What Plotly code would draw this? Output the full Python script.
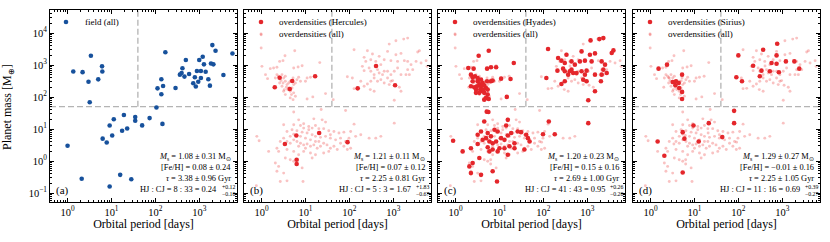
import plotly.graph_objects as go

# ---------------- data ----------------
# field planets (panel a): orbital period [days], planet mass [M_earth]
field_P = [1.35, 2.2, 3.0, 3.4, 3.2, 5.0, 6.1, 6.2,
           1.0, 2.1, 6.3, 7.8, 9.1, 10.4, 11.3, 9.1, 15.8, 17.5, 19.2, 22.8, 28.3, 34.8, 34.8, 50, 74, 106, 145,
           112, 137, 137, 150, 169, 288, 362, 396, 414, 495, 587, 794, 834, 886, 1000, 1090, 1090, 1200,
           1280, 1610, 1750, 1850, 1990, 2100, 2350, 3550, 5700, 950, 730, 1400, 460]
field_M = [630, 600, 300, 1950, 69, 357, 910, 630,
           3.0, 0.28, 5.0, 3.8, 12.9, 6.3, 20.3, 0.16, 0.37, 8.8, 27.6, 10.4, 0.27, 23.6, 18.1, 13, 22, 47, 14.5,
           187, 358, 122, 222, 2500, 191, 500, 565, 790, 1440, 525, 415, 213, 650, 1430, 395, 650, 1820,
           1050, 358, 227, 1120, 4200, 1050, 2800, 490, 2300, 300, 270, 620, 435]

# all overdensity planets (light points, panels b-d)
all_P = [
    # short period, massive
    0.98, 0.98, 3.42, 5.7, 1.02, 1.23, 1.37, 1.58, 1.88, 2.24, 2.58, 3.08, 5.4, 6.8, 8.4, 21.2,
    2.24, 2.45, 2.67, 2.92, 3.19, 3.48, 2.77, 3.08, 3.48, 3.80, 4.15, 4.5, 3.67, 3.30, 3.94, 4.5,
    4.95, 5.4, 5.9, 5.22, 6.4, 7.0, 7.7, 5.4, 4.8, 5.9, 5.22, 4.5, 10.9, 13, 10.0, 10.9, 14.7,
    28.7, 43, 2.92, 4.15, 3.19, 2.58, 2.06, 3.48,
    2.0, 2.58, 4.4, 5.0, 16.6,
    # long period, massive
    128, 810, 1150, 1730, 2130, 3610, 3950, 5600, 5900, 258, 336, 217, 237, 308, 400, 478, 522,
    622, 742, 885, 1150, 1258, 1500, 1790, 2130, 2540, 2780, 2130, 2330, 1950, 1500, 1258, 1055,
    885, 742, 622, 570, 478, 438, 367, 308, 282, 217, 198, 117, 90, 128, 182, 258, 308, 367, 438,
    522, 622, 742, 885, 966, 810, 1373, 1500, 1055, 367, 300, 217, 3310, 4300,
    155, 405, 1100,
    # low mass
    5.4, 22.8, 82, 7.0, 15.5, 24, 28.7, 128, 1055, 7.7, 9.1, 11.9, 14.2, 16.9, 20.2, 26, 34, 44.5,
    58, 75, 107, 3.8, 4.95, 6.4, 8.4, 10.9, 14.2, 16.9, 22, 28.7, 37, 48.6, 63, 82, 98, 139, 182,
    282, 400, 522, 0.78, 0.88, 2.67, 3.19, 3.8, 4.5, 5.4, 6.4, 7.7, 9.1, 10.9, 13, 15.5, 18.5, 22,
    26, 31, 37, 44.5, 53, 75, 90, 107, 1.45, 2.24, 2.45, 3.8, 5.4, 7.0, 9.1, 13, 16.9, 26, 34,
    2.06, 2.45, 2.24, 3.19, 2.67, 3.8, 8.8, 8.4, 4.5, 3.48, 5.4, 14.2, 0.76,
    4.5, 5.4, 7.7, 10, 13, 16.9, 7.0, 10, 20.2, 11.9, 9.1, 37, 63, 3.19, 5.4,
    3.4, 6.2, 20.5, 91, 6.3, 6.3,
]
all_M = [
    8830, 3390, 1960, 2800, 910, 501, 376, 770, 810, 850, 1300, 1370, 810, 870, 955, 1190,
    501, 445, 395, 501, 395, 445, 326, 275, 311, 245, 275, 311, 202, 171, 171, 152,
    192, 245, 275, 395, 350, 414, 311, 135, 119, 106, 83, 94, 395, 414, 311, 87, 101,
    128, 83, 217, 192, 152, 275, 395, 119,
    202, 400, 178, 316, 446,
    3010, 4520, 5730, 6470, 6950, 2550, 2800, 1370, 910, 2800, 2210, 1740, 1300, 1470, 1300, 1870, 1030,
    1470, 2670, 1370, 2100, 1300, 2310, 1370, 1300, 1030, 718, 718, 501, 501, 501, 810, 637,
    501, 637, 637, 501, 565, 718, 501, 637, 810, 668, 910, 395, 430, 183, 311, 256, 311, 395, 311,
    350, 275, 395, 311, 326, 245, 202, 152, 79, 152, 171, 217, 1300, 1160,
    187, 930, 233,
    34, 41, 38, 19.4, 20.8, 19.4, 16.5, 14.2, 15.3, 12.9, 14.6, 12.0, 10.7, 12.9, 10.3, 10.3, 8.8, 8.4,
    7.5, 8.0, 8.4, 8.4, 9.5, 8.8, 8.0, 7.5, 6.6, 5.9, 5.5, 5.9, 5.2, 4.6, 5.2, 4.1, 5.2, 5.9, 6.6,
    5.2, 5.2, 5.9, 5.9, 4.3, 4.1, 5.2, 4.1, 3.6, 4.6, 4.1, 3.6, 3.2, 3.4, 2.9, 3.2, 2.5, 2.9,
    3.6, 3.2, 2.5, 2.9, 2.3, 2.9, 2.3, 2.5, 2.0, 2.5, 2.0, 2.3, 2.0, 1.57, 2.0, 1.78, 1.57, 1.78, 2.0,
    0.87, 0.68, 0.48, 0.42, 0.23, 0.24, 0.23, 0.61, 1.10, 1.24, 0.98, 1.24, 0.17,
    5.9, 6.9, 5.9, 5.2, 4.6, 4.1, 2.9, 2.5, 4.1, 9.5, 10.7, 6.6, 3.6, 13.6, 13.6,
    3.4, 6.3, 7.5, 3.9, 1.1, 0.81,
]

# Hercules overdensity planets (panel b)
herc_P = [2.0, 2.58, 4.4, 5.0, 16.6, 155, 405, 1100, 3.4, 6.2, 20.5, 91, 6.3, 6.3]
herc_M = [202, 400, 178, 316, 446, 187, 930, 233, 3.4, 6.3, 7.5, 3.9, 1.1, 0.81]

# Hyades overdensity planets (panel c)
hyad_P = [3.36, 5.7, 21.2, 1.95, 2.58, 5.22, 6.4, 8.4, 2.24, 2.45, 2.77, 3.19, 3.48, 3.8, 3.08, 2.67,
          4.15, 4.5, 4.95, 5.4, 3.67, 4.15, 3.48, 2.92, 4.5, 2.24, 5.4, 4.95, 4.5, 5.7, 2.92, 6.4, 7.0,
          10.9, 17.9, 14.7, 5.22, 3.19, 2.45, 3.8, 4.38,
          128, 1190, 1890, 2330, 3950, 3610, 742, 1150, 1500, 885, 336, 217, 258, 209, 282, 308, 367,
          438, 478, 570, 742, 885, 810, 966, 308, 258, 522, 1258, 2130, 2330, 2540, 2780, 2130, 2050,
          1500, 1055, 117, 308, 1500, 680, 966, 438, 400,
          5.13, 5.6, 133, 1055, 4.5, 15.5, 14.2, 7.7, 9.1, 3.8, 3.19, 5.4, 6.4, 4.95, 4.15, 5.9, 7.0,
          8.4, 10.9, 13, 15.5, 18.5, 26, 31, 40.7, 44.5, 48.6, 22, 16.9, 13, 10, 7.0, 5.4, 3.19, 2.24,
          1.45, 0.88, 22, 37, 98, 182, 15.5, 5.9, 9.1, 2.06, 2.45, 2.24, 3.8, 7.0, 8.8, 3.48]
hyad_M = [1960, 2800, 1160, 810, 770, 770, 850, 850, 501, 414, 445, 311, 256, 217, 217, 202,
          275, 233, 192, 171, 171, 152, 135, 171, 135, 217, 119, 94, 83, 87, 135, 311, 326,
          376, 367, 101, 311, 395, 311, 350, 171,
          3160, 5880, 6470, 6950, 2870, 2370, 2670, 2100, 2310, 1370, 2100, 1660, 1370, 668, 770, 637, 501,
          718, 565, 565, 637, 501, 350, 311, 311, 256, 1030, 1300, 1300, 718, 1030, 565, 501, 311,
          152, 79, 395, 1160, 501, 1300, 668, 1300, 637,
          35, 34, 17.2, 15.3, 17.2, 19.4, 12.9, 9.5, 8.4, 8.4, 6.6, 7.5, 5.9, 5.2, 4.6, 4.1, 3.6,
          4.1, 5.2, 4.6, 6.3, 7.5, 8.4, 8.0, 6.6, 5.2, 4.1, 3.6, 2.9, 2.5, 2.5, 2.3, 2.7, 3.4, 2.5,
          2.0, 4.3, 2.5, 2.3, 6.9, 6.9, 1.57, 2.0, 2.0, 0.68, 0.87, 0.42, 0.37, 0.48, 0.23, 1.24]

# Sirius overdensity planets (panel d)
sir_P = [2.37, 1.52, 5.22, 3.19, 3.8, 4.38, 4.5, 5.22, 5.22, 3.48, 3.67,
         100, 367, 766, 742, 1890, 217, 336, 522, 742, 838, 308, 90, 121, 570, 1210, 2440,
         80, 80, 21.2, 9.5, 5.4, 5.9, 12.5, 43, 1.45, 2.06, 5.4]
sir_M = [1030, 770, 501, 296, 311, 275, 192, 145, 87, 289, 233,
         2000, 3010, 4630, 2000, 1300, 955, 668, 637, 1100, 593, 445, 414, 311, 1160, 1300, 770,
         37, 15.3, 15.3, 12.9, 8.0, 5.0, 4.1, 5.6, 4.1, 1.47, 0.44]

panel_tags = ["(a)", "(b)", "(c)", "(d)"]
legend_first = ["field (all)", "overdensities (Hercules)", "overdensities (Hyades)", "overdensities (Sirius)"]
legend_second = [None, "overdensities (all)", "overdensities (all)", "overdensities (all)"]
ms_txt = ["1.08 ± 0.31", "1.21 ± 0.11", "1.20 ± 0.23", "1.29 ± 0.27"]
feh_txt = ["0.08 ± 0.24", "0.07 ± 0.12", "0.15 ± 0.16", "−0.01 ± 0.16"]
age_txt = ["3.38 ± 0.96", "2.25 ± 0.81", "2.69 ± 1.00", "2.25 ± 1.05"]
hjcj_txt = ["8 : 33 = 0.24", "5 : 3 = 1.67", "41 : 43 = 0.95", "11 : 16 = 0.69"]
ratio_up = ["+0.12", "+1.83", "+0.26", "+0.39"]
ratio_lo = ["−0.10", "−0.67", "−0.20", "−0.27"]

x_tickvals = [1, 10, 100, 1000]
x_ticktext = ["10<sup>0</sup>", "10<sup>1</sup>", "10<sup>2</sup>", "10<sup>3</sup>"]
y_tickvals = [0.1, 1, 10, 100, 1000, 10000]
y_ticktext = ["10<sup>−1</sup>", "10<sup>0</sup>", "10<sup>1</sup>", "10<sup>2</sup>",
              "10<sup>3</sup>", "10<sup>4</sup>"]
P_cut = 40     # days
M_cut = 50     # Earth masses

# ---------------- style / geometry ----------------
W, H = 830, 242
FONT = "Liberation Serif"
BLUE = "#17519c"
RED = "#e4262b"
LIGHT = "rgba(238,70,70,0.33)"
X_RANGE = [-0.4, 3.86]
Y_RANGE = [-1.28, 4.72]
left_px = [50, 244, 438, 633]
right_px = [237, 431, 625, 820]
top_px, bot_px = 10, 202
LEG_Y = [22, 34]

def px(x):
    return x / W

def py(y):
    return 1 - y / H

minor_x = [m * 10 ** e for e in range(-1, 4) for m in range(2, 10)]
minor_y = [m * 10 ** e for e in range(-2, 5) for m in range(2, 10)]

fig = go.Figure()

# panel a (legend symbol from the native legend, label as annotation next to it)
fig.add_trace(go.Scatter(x=field_P, y=field_M, mode="markers", name=" ",
                         hovertext=legend_first[0],
                         marker=dict(color=BLUE, size=4.6, line=dict(width=0)),
                         xaxis="x", yaxis="y", legend="legend", showlegend=True))

groups = [("Hercules", herc_P, herc_M), ("Hyades", hyad_P, hyad_M), ("Sirius", sir_P, sir_M)]
for i, (gname, gP, gM) in enumerate(groups):
    k = i + 2
    fig.add_trace(go.Scatter(x=all_P, y=all_M, mode="markers", name=" ",
                             hovertext=legend_second[k - 1],
                             marker=dict(color=LIGHT, size=2.9, line=dict(width=0)),
                             xaxis=f"x{k}", yaxis=f"y{k}", legend=f"legend{k + 3}", showlegend=True))
    fig.add_trace(go.Scatter(x=gP, y=gM, mode="markers", name=" ",
                             hovertext=legend_first[k - 1],
                             marker=dict(color=RED, size=4.6, line=dict(width=0)),
                             xaxis=f"x{k}", yaxis=f"y{k}", legend=f"legend{k}", showlegend=True))

layout = dict(width=W, height=H, margin=dict(l=0, r=0, t=0, b=0, autoexpand=False),
              paper_bgcolor="white", plot_bgcolor="white", showlegend=True,
              font=dict(family=FONT, color="black"), shapes=[], annotations=[])

def make_legend(x_px, y_px):
    return dict(x=px(x_px), y=py(y_px), xanchor="left", yanchor="middle",
                bgcolor="rgba(0,0,0,0)", borderwidth=0, itemwidth=30,
                font=dict(family=FONT, size=9, color="black"), tracegroupgap=0)

DASH = "6px,3px"
for i in range(4):
    k = "" if i == 0 else str(i + 1)
    xa = dict(type="log", range=X_RANGE, domain=[px(left_px[i]), px(right_px[i])],
              anchor=f"y{k}", automargin=False,
              showline=True, linecolor="black", linewidth=0.8, mirror="ticks",
              ticks="inside", ticklen=4, tickwidth=0.8, tickcolor="black",
              tickmode="array", tickvals=x_tickvals, ticktext=x_ticktext,
              tickfont=dict(family=FONT, size=10.5, color="black"),
              showgrid=False, zeroline=False,
              minor=dict(ticks="inside", ticklen=2, tickwidth=0.6, tickcolor="black",
                         tickmode="array", tickvals=minor_x, showgrid=False),
              title=dict(text="Orbital period [days]", font=dict(family=FONT, size=12), standoff=2))
    ya = dict(type="log", range=Y_RANGE, domain=[py(bot_px), py(top_px)],
              anchor=f"x{k}", automargin=False,
              showline=True, linecolor="black", linewidth=0.8, mirror="ticks",
              ticks="inside", ticklen=4, tickwidth=0.8, tickcolor="black",
              tickmode="array", tickvals=y_tickvals, ticktext=y_ticktext,
              tickfont=dict(family=FONT, size=10.5, color="black"),
              showticklabels=(i == 0),
              showgrid=False, zeroline=False,
              minor=dict(ticks="inside", ticklen=2, tickwidth=0.6, tickcolor="black",
                         tickmode="array", tickvals=minor_y, showgrid=False))
    layout[f"xaxis{k}"] = xa
    layout[f"yaxis{k}"] = ya

    # dashed guide lines
    layout["shapes"].append(dict(type="line", xref=f"x{k} domain", yref=f"y{k}", x0=0, x1=1,
                                 y0=M_cut, y1=M_cut, layer="below",
                                 line=dict(color="#b4b4b4", width=1.3, dash=DASH)))
    layout["shapes"].append(dict(type="line", xref=f"x{k}", yref=f"y{k}", x0=P_cut, x1=P_cut,
                                 y0=M_cut, y1=10 ** Y_RANGE[1], layer="below",
                                 line=dict(color="#b4b4b4", width=1.3, dash=DASH)))

    ann = layout["annotations"]
    # legends: symbol via native legend, labels as text
    if i == 0:
        layout["legend"] = make_legend(left_px[i] - 4, LEG_Y[0])
    else:
        layout[f"legend{i + 1}"] = make_legend(left_px[i] - 3, LEG_Y[0])
        layout[f"legend{i + 4}"] = make_legend(left_px[i] - 3, LEG_Y[1])
    for lab, yy in zip([legend_first[i], legend_second[i]], LEG_Y):
        if lab is None:
            continue
        ann.append(dict(text=lab, xref="paper", yref="paper", x=px(left_px[i] + 32.5), y=py(yy),
                        xanchor="left", yanchor="middle", showarrow=False,
                        font=dict(family=FONT, size=9)))

    # panel tag
    R = right_px[i]
    ann.append(dict(text=panel_tags[i], xref="paper", yref="paper", x=px(left_px[i] + 4),
                    y=py(190), xanchor="left", yanchor="middle", showarrow=False,
                    font=dict(family=FONT, size=11)))
    lines = [f"<i>M</i><sub>s</sub> = {ms_txt[i]} M<sub>⊙</sub>",
             f"[Fe/H] = {feh_txt[i]}",
             f"<i>τ</i> = {age_txt[i]} Gyr"]
    for t, yy in zip(lines, [156.5, 167.5, 178.5]):
        ann.append(dict(text=t, xref="paper", yref="paper", x=px(R - 4), y=py(yy),
                        xanchor="right", yanchor="middle", showarrow=False,
                        font=dict(family=FONT, size=8.4)))
    ann.append(dict(text=f"HJ : CJ = {hjcj_txt[i]}", xref="paper", yref="paper", x=px(R - 18),
                    y=py(189.5), xanchor="right", yanchor="middle", showarrow=False,
                    font=dict(family=FONT, size=8.4)))
    ann.append(dict(text=ratio_up[i], xref="paper", yref="paper", x=px(R - 17.5), y=py(186.5),
                    xanchor="left", yanchor="middle", showarrow=False,
                    font=dict(family=FONT, size=5.8)))
    ann.append(dict(text=ratio_lo[i], xref="paper", yref="paper", x=px(R - 17.5), y=py(193.5),
                    xanchor="left", yanchor="middle", showarrow=False,
                    font=dict(family=FONT, size=5.8)))

# y-axis title
layout["annotations"].append(dict(text="Planet mass [M<sub>⊕</sub>]", xref="paper", yref="paper",
                                  x=px(8), y=py(107), xanchor="center", yanchor="middle",
                                  textangle=-90, showarrow=False, font=dict(family=FONT, size=12)))

fig.update_layout(**layout)
fig.write_html("out.html", config={"displayModeBar": False},
               post_script="document.body.style.margin='0';document.body.style.padding='0';")
